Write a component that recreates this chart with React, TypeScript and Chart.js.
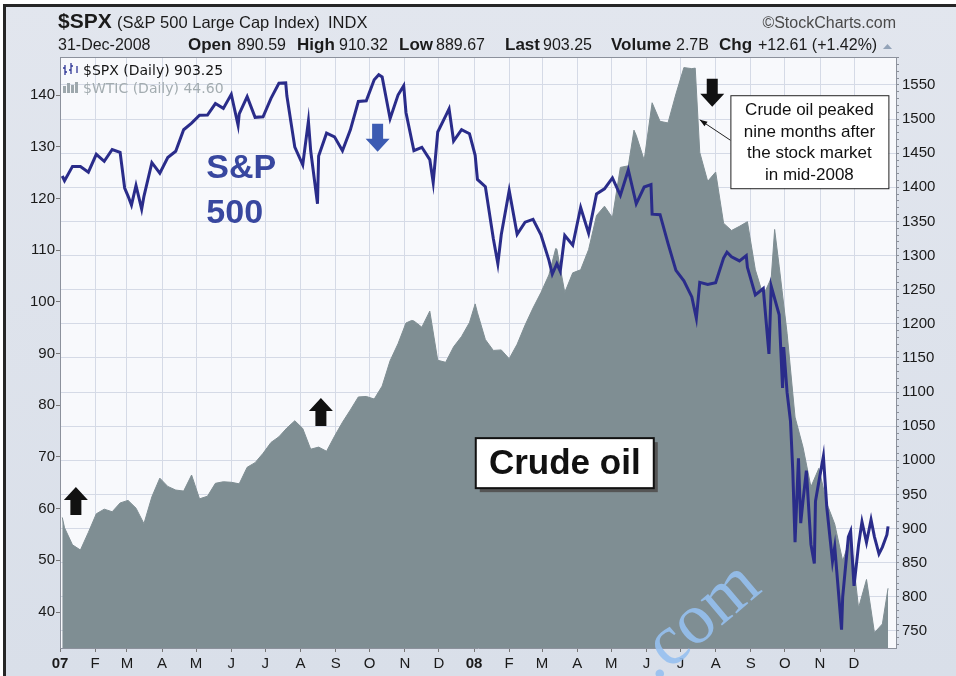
import { useEffect, useRef } from 'react';
import { Chart, registerables } from 'chart.js';

Chart.register(...registerables);

const W = 956;
const H = 676;
const SANS = '"Liberation Sans", Arial, Helvetica, sans-serif';
const MS_DAY = 86400000;
const ORIGIN = Date.UTC(2007, 0, 1);

// ---- axis labels / ticks ----
const monthLabels = ['07', 'F', 'M', 'A', 'M', 'J', 'J', 'A', 'S', 'O', 'N', 'D',
  '08', 'F', 'M', 'A', 'M', 'J', 'J', 'A', 'S', 'O', 'N', 'D'];
const oilTicks = [40, 50, 60, 70, 80, 90, 100, 110, 120, 130, 140];
const spxMinor = 10;
const spxMajor = 50;

// ---- sampling: first session, weekly Friday closes, last session ----
const firstSession = '2007-01-03';
const firstFriday = '2007-01-05';
const fridayCount = 104;
const lastSession = '2008-12-31';

// $SPX (Jan 3 2007, then each Friday, then Dec 31 2008)
const spxWeekly = [
  1416.6,
  1409.7, 1430.7, 1430.5, 1422.2,
  1448.4, 1438.1, 1455.5, 1451.2,
  1387.2, 1402.8, 1386.9, 1436.1, 1420.9,
  1443.8, 1452.9, 1484.4, 1494.1,
  1505.6, 1505.9, 1522.8, 1515.7,
  1536.3, 1507.7, 1532.9, 1502.6, 1503.4,
  1530.4, 1552.5, 1534.1, 1458.9,
  1433.1, 1453.6, 1445.9, 1479.4, 1474.0,
  1453.6, 1484.3, 1525.8, 1526.8,
  1557.6, 1561.8, 1500.6, 1535.3,
  1509.7, 1453.7, 1458.7, 1440.7, 1481.1,
  1504.7, 1467.9, 1484.5, 1478.5,
  1411.6, 1401.0, 1325.2, 1330.6,
  1395.4, 1331.3, 1349.0, 1353.1, 1330.6,
  1293.4, 1288.1, 1329.5, 1315.2,
  1370.4, 1332.8, 1390.3, 1397.8,
  1413.9, 1388.3, 1425.4, 1375.9, 1400.4,
  1360.7, 1360.0, 1317.9, 1278.4,
  1262.9, 1239.5, 1260.7, 1257.8,
  1260.3, 1296.3, 1298.2, 1292.2, 1282.8,
  1242.3, 1251.7, 1255.1, 1213.3,
  1099.2, 880.0, 940.6, 876.8, 968.8,
  931.0, 873.3, 800.0, 896.2,
  876.1, 879.7, 887.9, 872.8,
  903.25,
];

// $SPX extra sessions where the daily bars swing far from the weekly path
const spxExtraDates = [
  '2007-02-27', '2007-03-05', '2007-03-14', '2007-06-07', '2007-07-19', '2007-08-08',
  '2007-08-16', '2007-10-09', '2007-10-31', '2007-11-26', '2007-12-10',
  '2008-01-02', '2008-01-22', '2008-03-10', '2008-03-17', '2008-06-05', '2008-07-15',
  '2008-08-11', '2008-08-28', '2008-09-17', '2008-09-29', '2008-09-30', '2008-10-06',
  '2008-10-08', '2008-10-13', '2008-10-15', '2008-10-20', '2008-10-27', '2008-10-28',
  '2008-11-04', '2008-11-12', '2008-11-20', '2008-11-26', '2008-12-01', '2008-12-08',
  '2008-12-16', '2008-12-23', '2008-12-30',
];
const spxExtraValues = [
  1399, 1374, 1368, 1491, 1553, 1497,
  1376, 1565, 1549, 1407, 1515,
  1447, 1288, 1273, 1277, 1404, 1208,
  1305, 1300, 1156, 1106, 1166, 1057,
  985, 1003, 908, 985, 849, 940,
  1006, 852, 752, 888, 816, 910,
  913, 863, 891,
];

// $WTIC closes, same weekly dates
const oilWeekly = [
  58.3,
  56.3, 53.0, 52.0, 55.4,
  59.0, 59.9, 59.4, 61.1,
  61.6, 60.1, 57.1, 62.3, 65.9,
  64.3, 63.6, 63.4, 66.5,
  61.9, 62.4, 64.9, 65.2,
  65.1, 64.8, 68.0, 68.9, 70.7,
  72.8, 73.9, 75.6, 77.0,
  75.5, 71.5, 71.9, 71.1, 74.0,
  76.7, 79.1, 81.6, 81.7,
  81.2, 83.7, 88.6, 91.9,
  95.9, 96.3, 95.1, 98.2, 88.7,
  88.3, 91.3, 93.3, 96.0,
  97.9, 92.7, 90.6, 90.7,
  89.0, 91.8, 95.5, 98.8, 101.8,
  105.2, 110.2, 101.8, 105.6,
  106.2, 110.1, 116.7, 118.5,
  116.3, 126.0, 126.3, 132.2, 127.4,
  138.5, 134.9, 134.6, 140.2,
  145.3, 145.1, 128.9, 123.3,
  125.1, 115.2, 113.8, 114.6, 115.5,
  106.2, 101.2, 104.6, 106.9,
  93.9, 77.7, 71.9, 64.2, 67.8,
  61.0, 57.0, 49.9, 54.4,
  40.8, 46.3, 36.0, 37.7,
  44.6,
];
const oilExtraDates = ['2007-11-07', '2008-01-02', '2008-03-13', '2008-05-21', '2008-07-14', '2008-09-22'];
const oilExtraValues = [96.4, 99.6, 110.3, 133.2, 145.2, 114.0];

// ---- annotations (anchored in data coordinates) ----
const upArrows = [
  { date: '2007-01-15', oil: 64.2 },
  { date: '2007-08-19', oil: 81.4 },
];
const downArrows = [
  { date: '2007-10-08', spx: 1452, color: '#3c5bb2' },
  { date: '2008-07-29', spx: 1518, color: '#111111' },
];
const spLabel = { date: '2007-05-10', spx: 1414, lines: ['S&P', '500'] };
const oilLabel = { date: '2008-03-21', oil: 68.8, text: 'Crude oil' };
const callout = {
  date: '2008-08-14', spx: 1535,
  lines: ['Crude oil peaked', 'nine months after', 'the stock market', 'in mid-2008'],
  pointDate: '2008-07-18', pointOil: 135.2,
};

function dayIndex(iso: string): number {
  const [y, m, d] = iso.split('-').map(Number);
  return (Date.UTC(y, m - 1, d) - ORIGIN) / MS_DAY;
}

const sampleDays = [
  dayIndex(firstSession),
  ...Array.from({ length: fridayCount }, (_, k) => dayIndex(firstFriday) + 7 * k),
  dayIndex(lastSession),
];
const monthDays = monthLabels.map((_, i) =>
  (Date.UTC(2007 + Math.floor(i / 12), i % 12, 1) - ORIGIN) / MS_DAY);

function series(weekly: number[], extraDates: string[], extraValues: number[]) {
  const pts = sampleDays.map((x, i) => ({ x, y: weekly[i] }));
  extraDates.forEach((d, i) => pts.push({ x: dayIndex(d), y: extraValues[i] }));
  return pts.sort((a, b) => a.x - b.x);
}

function blockArrow(ctx: CanvasRenderingContext2D, cx: number, tipY: number, dir: number, color: string) {
  const headW = 24, headH = 13, shaftW = 11, total = 28;
  ctx.beginPath();
  ctx.moveTo(cx, tipY);
  ctx.lineTo(cx + headW / 2, tipY - dir * headH);
  ctx.lineTo(cx + shaftW / 2, tipY - dir * headH);
  ctx.lineTo(cx + shaftW / 2, tipY - dir * total);
  ctx.lineTo(cx - shaftW / 2, tipY - dir * total);
  ctx.lineTo(cx - shaftW / 2, tipY - dir * headH);
  ctx.lineTo(cx - headW / 2, tipY - dir * headH);
  ctx.closePath();
  ctx.fillStyle = color;
  ctx.fill();
}

const backgroundPlugin = {
  id: 'scBackground',
  beforeDraw(chart: any) {
    const { ctx, chartArea: a } = chart;
    ctx.save();
    ctx.fillStyle = '#ffffff';
    ctx.fillRect(0, 0, W, H);
    const g = ctx.createLinearGradient(0, 0, 0, H);
    g.addColorStop(0, '#e2e6ee');
    g.addColorStop(1, '#d9dfe9');
    ctx.fillStyle = g;
    ctx.fillRect(3, 4, W - 3, H - 4);
    ctx.fillStyle = '#262626';
    ctx.fillRect(3, 4, W - 3, 3);
    ctx.fillRect(3, 4, 3, H - 4);
    ctx.fillStyle = '#f8f9fc';
    ctx.fillRect(a.left, a.top, a.right - a.left, a.bottom - a.top);
    ctx.restore();
  },
};

const overlayPlugin = {
  id: 'scOverlay',
  afterDraw(chart: any) {
    const { ctx, chartArea: a, scales } = chart;
    const xs = scales.x, yo = scales.yOil, ys = scales.ySpx;
    ctx.save();

    ctx.strokeStyle = '#8c919c';
    ctx.lineWidth = 1;
    ctx.beginPath();
    ctx.moveTo(a.left, a.top + 0.5);
    ctx.lineTo(a.right, a.top + 0.5);
    ctx.stroke();

    // ---- header ----
    ctx.fillStyle = '#1b1b1b';
    ctx.textBaseline = 'alphabetic';
    ctx.textAlign = 'left';
    ctx.font = `bold 21px ${SANS}`;
    ctx.fillText('$SPX', 58, 28);
    ctx.font = `16.5px ${SANS}`;
    ctx.fillText('(S&P 500 Large Cap Index)', 117, 28);
    ctx.fillText('INDX', 328, 28);
    ctx.fillStyle = '#4a4a4a';
    ctx.font = `16px ${SANS}`;
    ctx.textAlign = 'right';
    ctx.fillText('\u00A9StockCharts.com', 896, 28);
    ctx.textAlign = 'left';
    ctx.fillStyle = '#1b1b1b';
    ctx.font = `16px ${SANS}`;
    ctx.fillText('31-Dec-2008', 58, 50);
    const pairs: [string, string, number, number][] = [
      ['Open', '890.59', 188, 237],
      ['High', '910.32', 297, 339],
      ['Low', '889.67', 399, 436],
      ['Last', '903.25', 505, 543],
      ['Volume', '2.7B', 611, 676],
      ['Chg', '+12.61 (+1.42%)', 719, 758],
    ];
    for (const [k, v, kx, vx] of pairs) {
      ctx.font = `bold 17px ${SANS}`;
      ctx.fillText(k, kx, 50);
      ctx.font = `16px ${SANS}`;
      ctx.fillText(v, vx, 50);
    }
    ctx.fillStyle = '#93a3b8';
    ctx.beginPath();
    ctx.moveTo(883, 49);
    ctx.lineTo(892, 49);
    ctx.lineTo(887.5, 44);
    ctx.closePath();
    ctx.fill();

    // ---- legend ----
    ctx.strokeStyle = '#2f3796';
    ctx.lineWidth = 1.3;
    ctx.beginPath();
    ctx.moveTo(65, 65); ctx.lineTo(65, 75);
    ctx.moveTo(63, 68); ctx.lineTo(65, 68);
    ctx.moveTo(65, 72); ctx.lineTo(67, 72);
    ctx.moveTo(71, 63); ctx.lineTo(71, 74);
    ctx.moveTo(69, 70); ctx.lineTo(71, 70);
    ctx.moveTo(71, 66); ctx.lineTo(73, 66);
    ctx.moveTo(77, 66); ctx.lineTo(77, 73);
    ctx.stroke();
    ctx.fillStyle = '#9ea8ad';
    ctx.fillRect(63, 86, 3, 7);
    ctx.fillRect(67, 83, 3, 10);
    ctx.fillRect(71, 85, 3, 8);
    ctx.fillRect(75, 82, 3, 11);
    ctx.font = `14px "DejaVu Sans", Verdana, sans-serif`;
    ctx.fillStyle = '#151515';
    ctx.fillText('$SPX (Daily) 903.25', 83, 75);
    ctx.fillStyle = '#a3acb0';
    ctx.fillText('$WTIC (Daily) 44.60', 83, 93);

    // ---- S&P 500 label ----
    ctx.fillStyle = '#38479f';
    ctx.font = `bold 34px ${SANS}`;
    const sx = xs.getPixelForValue(dayIndex(spLabel.date));
    const sy = ys.getPixelForValue(spLabel.spx);
    spLabel.lines.forEach((t, i) => ctx.fillText(t, sx, sy + i * 45));

    // ---- arrows ----
    for (const u of upArrows) {
      blockArrow(ctx, xs.getPixelForValue(dayIndex(u.date)), yo.getPixelForValue(u.oil), -1, '#111111');
    }
    for (const d of downArrows) {
      blockArrow(ctx, xs.getPixelForValue(dayIndex(d.date)), ys.getPixelForValue(d.spx), 1, d.color);
    }

    // ---- Crude oil box ----
    const ox = xs.getPixelForValue(dayIndex(oilLabel.date));
    const oy = yo.getPixelForValue(oilLabel.oil);
    const bw = 178, bh = 50;
    ctx.fillStyle = '#555555';
    ctx.fillRect(ox - bw / 2 + 4, oy - bh / 2 + 4, bw, bh);
    ctx.fillStyle = '#ffffff';
    ctx.fillRect(ox - bw / 2, oy - bh / 2, bw, bh);
    ctx.strokeStyle = '#111111';
    ctx.lineWidth = 2;
    ctx.strokeRect(ox - bw / 2, oy - bh / 2, bw, bh);
    ctx.fillStyle = '#111111';
    ctx.font = `bold 35px ${SANS}`;
    ctx.textAlign = 'center';
    ctx.textBaseline = 'middle';
    ctx.fillText(oilLabel.text, ox, oy + 1);

    // ---- callout ----
    const cx0 = xs.getPixelForValue(dayIndex(callout.date));
    const cy0 = ys.getPixelForValue(callout.spx);
    const cw = 158, ch = 93;
    ctx.fillStyle = '#ffffff';
    ctx.fillRect(cx0, cy0, cw, ch);
    ctx.strokeStyle = '#222222';
    ctx.lineWidth = 1;
    ctx.strokeRect(cx0 + 0.5, cy0 + 0.5, cw, ch);
    ctx.fillStyle = '#111111';
    ctx.font = `17px ${SANS}`;
    ctx.textBaseline = 'alphabetic';
    callout.lines.forEach((t, i) => ctx.fillText(t, cx0 + cw / 2, cy0 + 20 + i * 21.5));
    const px = xs.getPixelForValue(dayIndex(callout.pointDate));
    const py = yo.getPixelForValue(callout.pointOil);
    const tx = cx0, ty = cy0 + 45;
    ctx.beginPath();
    ctx.moveTo(tx, ty);
    ctx.lineTo(px, py);
    ctx.stroke();
    const ang = Math.atan2(py - ty, px - tx);
    ctx.beginPath();
    ctx.moveTo(px, py);
    ctx.lineTo(px - 8 * Math.cos(ang - 0.35), py - 8 * Math.sin(ang - 0.35));
    ctx.lineTo(px - 8 * Math.cos(ang + 0.35), py - 8 * Math.sin(ang + 0.35));
    ctx.closePath();
    ctx.fill();

    // ---- watermark ----
    ctx.save();
    ctx.translate(655, 682);
    ctx.rotate(-0.7);
    ctx.fillStyle = 'rgba(150,192,240,0.9)';
    ctx.font = `72px "Liberation Serif", "Times New Roman", serif`;
    ctx.textAlign = 'left';
    ctx.fillText('.com', 0, 0);
    ctx.restore();

    ctx.restore();
  },
};

export default function App() {
  const canvasRef = useRef<HTMLCanvasElement | null>(null);

  useEffect(() => {
    const canvas = canvasRef.current;
    if (!canvas) return;
    const tickFont = { family: SANS, size: 15 };
    const chart = new Chart(canvas, {
      type: 'line',
      data: {
        datasets: [
          {
            label: '$SPX',
            data: series(spxWeekly, spxExtraDates, spxExtraValues),
            yAxisID: 'ySpx',
            borderColor: '#2a2c8a',
            borderWidth: 3,
            pointRadius: 0,
            tension: 0,
            fill: false,
            order: 1,
          },
          {
            label: '$WTIC',
            data: series(oilWeekly, oilExtraDates, oilExtraValues),
            yAxisID: 'yOil',
            borderColor: '#7f8e93',
            backgroundColor: '#7f8e93',
            borderWidth: 1,
            pointRadius: 0,
            tension: 0,
            fill: 'start',
            order: 2,
          },
        ],
      },
      options: {
        responsive: false,
        animation: false,
        devicePixelRatio: 1,
        layout: { padding: { top: 57, left: 0, right: 0, bottom: 0 } },
        plugins: {
          legend: { display: false },
          tooltip: { enabled: false },
          title: { display: false },
        },
        scales: {
          x: {
            type: 'linear',
            min: 0,
            max: 737,
            afterBuildTicks: (s: any) => { s.ticks = monthDays.map((v) => ({ value: v })); },
            afterFit: (s: any) => { s.height = 28; },
            ticks: {
              autoSkip: false,
              maxRotation: 0,
              padding: 3,
              color: '#1a1a1a',
              font: (c: any) => ({ family: SANS, size: 15, weight: c.index % 12 === 0 ? 'bold' : 'normal' }),
              callback: (_v: any, i: number) => monthLabels[i],
            },
            grid: { color: '#d5dae6', tickColor: '#777', tickLength: 4, lineWidth: 1 },
            border: { color: '#8c919c' },
          },
          yOil: {
            type: 'linear',
            position: 'left',
            min: 33.05,
            max: 147.35,
            afterBuildTicks: (s: any) => { s.ticks = oilTicks.map((v) => ({ value: v })); },
            afterFit: (s: any) => { s.width = 60; },
            ticks: { color: '#1a1a1a', font: tickFont, padding: 1, autoSkip: false },
            grid: { drawOnChartArea: false, tickColor: '#777', tickLength: 4 },
            border: { color: '#8c919c' },
          },
          ySpx: {
            type: 'linear',
            position: 'right',
            min: 725,
            max: 1591,
            afterBuildTicks: (s: any) => {
              const t = [];
              for (let v = Math.ceil(s.min / spxMinor) * spxMinor; v <= s.max; v += spxMinor) t.push({ value: v });
              s.ticks = t;
            },
            afterFit: (s: any) => { s.width = 60; },
            ticks: {
              color: '#1a1a1a',
              font: tickFont,
              padding: 3,
              autoSkip: false,
              callback: (v: any) => (v % spxMajor === 0 ? String(v) : ''),
            },
            grid: {
              color: (c: any) => (c.tick && c.tick.value % spxMajor === 0 ? '#d5dae6' : 'rgba(0,0,0,0)'),
              tickColor: '#8a8f99',
              tickLength: 3,
            },
            border: { color: '#8c919c' },
          },
        },
      },
      plugins: [backgroundPlugin, overlayPlugin],
    } as any);
    return () => chart.destroy();
  }, []);

  return (
    <div style={{ position: 'fixed', left: 0, top: 0, width: W, height: H }}>
      <canvas ref={canvasRef} width={W} height={H} style={{ display: 'block', width: W, height: H }} />
    </div>
  );
}
